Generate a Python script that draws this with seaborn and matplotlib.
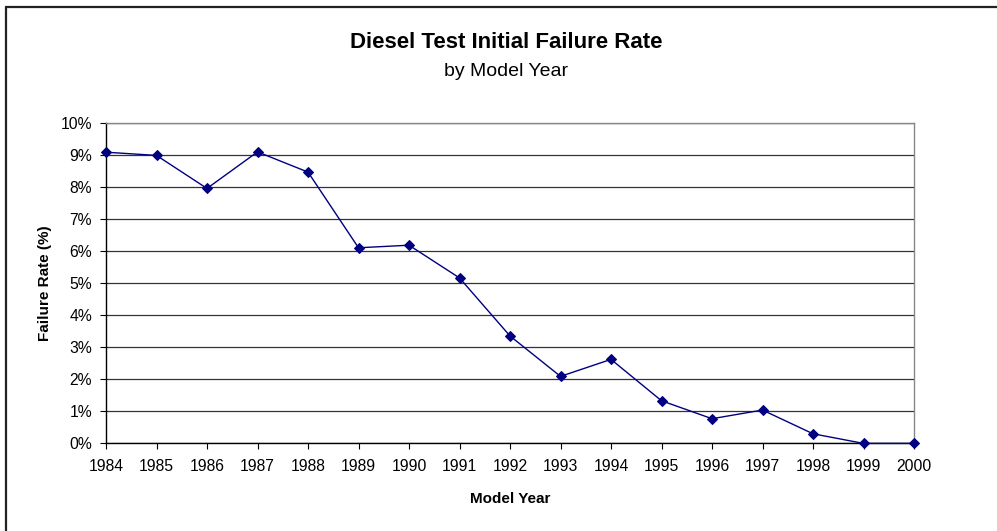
import matplotlib
matplotlib.use('Agg')
import matplotlib.pyplot as plt
import seaborn as sns
import pandas as pd
from matplotlib.ticker import PercentFormatter
from matplotlib.lines import Line2D

# Values
years = [1984, 1985, 1986, 1987, 1988, 1989, 1990, 1991, 1992,
         1993, 1994, 1995, 1996, 1997, 1998, 1999, 2000]
failure_rate = [9.08, 8.98, 7.95, 9.09, 8.46, 6.10, 6.18, 5.16, 3.35,
                2.09, 2.62, 1.33, 0.77, 1.04, 0.30, 0.0, 0.0]
y_ticks = list(range(0, 11))

df = pd.DataFrame({'Model Year': years, 'Failure Rate': failure_rate})

sns.set_style('white')
plt.rcParams['font.family'] = ['Liberation Sans', 'DejaVu Sans']
plt.rcParams['text.color'] = 'black'
plt.rcParams['axes.labelcolor'] = 'black'

W, H = 997, 531
fig = plt.figure(figsize=(W / 100, H / 100), dpi=100)
ax = fig.add_axes([106 / W, 1 - 443.4 / H, (914 - 106) / W, (443.4 - 122.7) / H])

sns.lineplot(data=df, x='Model Year', y='Failure Rate', ax=ax, color='#000080',
             linewidth=1.0, marker='D', markersize=5.5, markeredgecolor='#000080',
             clip_on=False, zorder=5)

ax.set_xlim(1984, 2000)
ax.set_ylim(0, 10)
ax.set_xticks(years)
ax.set_xticklabels([str(y) for y in years])
ax.set_yticks(y_ticks)
ax.yaxis.set_major_formatter(PercentFormatter(decimals=0))
ax.grid(axis='y', color='#333333', linewidth=0.9)
ax.set_axisbelow(True)

ax.tick_params(axis='both', labelsize=11.3, colors='black', length=4, width=0.8,
               direction='out', bottom=True, left=True)
ax.tick_params(axis='x', pad=7)
ax.tick_params(axis='y', pad=6)

for side in ['left', 'bottom']:
    ax.spines[side].set_color('black')
    ax.spines[side].set_linewidth(1.0)
for side in ['right', 'top']:
    ax.spines[side].set_color('#888888')
    ax.spines[side].set_linewidth(1.0)

ax.set_xlabel('Model Year', fontsize=11, fontweight='bold', labelpad=13, color='black')
ax.set_ylabel('Failure Rate (%)', fontsize=11, fontweight='bold', labelpad=6, color='black')

fig.text(506 / W, 1 - 43 / H, 'Diesel Test Initial Failure Rate', fontsize=16,
         fontweight='bold', ha='center', va='center', color='black')
fig.text(506 / W, 1 - 72 / H, 'by Model Year', fontsize=14, ha='center', va='center',
         color='black')

# outer chart-area frame (left and top edges visible)
fig.add_artist(Line2D([5.5 / W, 5.5 / W], [0, 1 - 6.5 / H], transform=fig.transFigure,
                      color='#222222', linewidth=1.6))
fig.add_artist(Line2D([5.5 / W, 1], [1 - 6.5 / H, 1 - 6.5 / H], transform=fig.transFigure,
                      color='#222222', linewidth=1.6))

fig.savefig('out.png', dpi=100)
